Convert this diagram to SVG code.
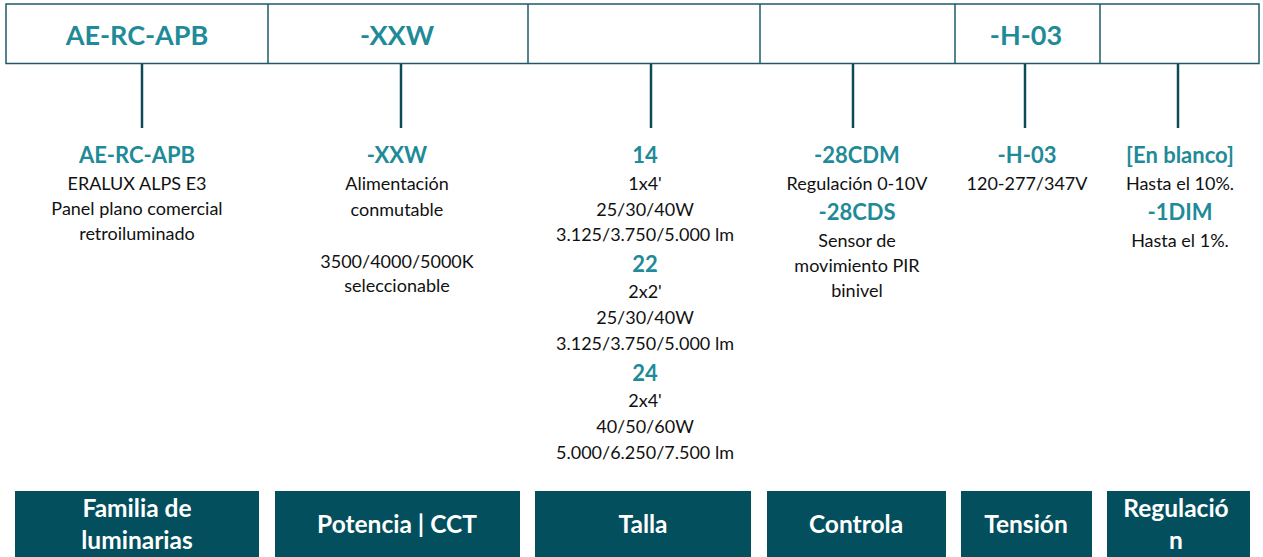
<svg xmlns="http://www.w3.org/2000/svg" width="1263" height="557" viewBox="0 0 1263 557">
<style>
.bar{fill:#fff;stroke:#1d5a68;stroke-width:1.5}
.div{stroke:#1d5a68;stroke-width:1.5}
.code{font-family:Lato,"Liberation Sans",sans-serif;font-weight:bold;fill:#1f8a98;text-anchor:middle}
.top{font-size:27px}
.sub{font-size:22px}
.body{font-family:Lato,"Liberation Sans",sans-serif;font-size:18px;fill:#111;text-anchor:middle}
.box{fill:#034f5e}
.lbl{font-family:Lato,"Liberation Sans",sans-serif;font-weight:bold;font-size:24.5px;fill:#fff;text-anchor:middle}
.con{stroke:#0c4a58;stroke-width:2.5}
</style>
<g id="codebar">
<rect class="bar" x="6" y="4" width="1253" height="59.5"/>
<line class="div" x1="268" y1="4" x2="268" y2="63.5"/>
<line class="div" x1="528" y1="4" x2="528" y2="63.5"/>
<line class="div" x1="760" y1="4" x2="760" y2="63.5"/>
<line class="div" x1="955" y1="4" x2="955" y2="63.5"/>
<line class="div" x1="1100" y1="4" x2="1100" y2="63.5"/>
<text class="code top" x="137" y="45">AE-RC-APB</text>
<text class="code top" x="397" y="45">-XXW</text>
<text class="code top" x="1026" y="45">-H-03</text>
</g>
<g id="connectors">
<line class="con" x1="142" y1="64" x2="142" y2="128"/>
<line class="con" x1="401" y1="64" x2="401" y2="128"/>
<line class="con" x1="651" y1="64" x2="651" y2="128"/>
<line class="con" x1="853" y1="64" x2="853" y2="128"/>
<line class="con" x1="1025" y1="64" x2="1025" y2="128"/>
<line class="con" x1="1178" y1="64" x2="1178" y2="128"/>
</g>
<g id="familia">
<text class="code sub" x="137" y="163">AE-RC-APB</text>
<text class="body" x="137" y="190">ERALUX ALPS E3</text>
<text class="body" x="137" y="215">Panel plano comercial</text>
<text class="body" x="137" y="240">retroiluminado</text>
<rect class="box" x="15" y="491" width="244" height="70"/>
<text class="lbl" x="137" y="517">Familia de</text>
<text class="lbl" x="137" y="549">luminarias</text>
</g>
<g id="potencia">
<text class="code sub" x="397" y="163">-XXW</text>
<text class="body" x="397" y="190">Alimentación</text>
<text class="body" x="397" y="216">conmutable</text>
<text class="body" x="397" y="267.5">3500/4000/5000K</text>
<text class="body" x="397" y="291.5">seleccionable</text>
<rect class="box" x="275" y="491" width="245" height="70"/>
<text class="lbl" x="397" y="533">Potencia | CCT</text>
</g>
<g id="talla">
<text class="code sub" x="645" y="163">14</text>
<text class="body" x="645" y="190">1x4'</text>
<text class="body" x="645" y="215.5">25/30/40W</text>
<text class="body" x="645" y="241">3.125/3.750/5.000 lm</text>
<text class="code sub" x="645" y="272">22</text>
<text class="body" x="645" y="298">2x2'</text>
<text class="body" x="645" y="324">25/30/40W</text>
<text class="body" x="645" y="350">3.125/3.750/5.000 lm</text>
<text class="code sub" x="645" y="381">24</text>
<text class="body" x="645" y="407">2x4'</text>
<text class="body" x="645" y="433">40/50/60W</text>
<text class="body" x="645" y="459">5.000/6.250/7.500 lm</text>
<rect class="box" x="535" y="491" width="216" height="70"/>
<text class="lbl" x="643" y="533">Talla</text>
</g>
<g id="controla">
<text class="code sub" x="857" y="163">-28CDM</text>
<text class="body" x="857" y="190">Regulación 0-10V</text>
<text class="code sub" x="857" y="220">-28CDS</text>
<text class="body" x="857" y="247">Sensor de</text>
<text class="body" x="857" y="272">movimiento PIR</text>
<text class="body" x="857" y="297">binivel</text>
<rect class="box" x="767" y="491" width="179" height="70"/>
<text class="lbl" x="856" y="533">Controla</text>
</g>
<g id="tension">
<text class="code sub" x="1027" y="163">-H-03</text>
<text class="body" x="1027" y="190">120-277/347V</text>
<rect class="box" x="961" y="491" width="131" height="70"/>
<text class="lbl" x="1026" y="533">Tensión</text>
</g>
<g id="regulacion">
<text class="code sub" x="1180" y="163">[En blanco]</text>
<text class="body" x="1180" y="190">Hasta el 10%.</text>
<text class="code sub" x="1180" y="220">-1DIM</text>
<text class="body" x="1180" y="247">Hasta el 1%.</text>
<rect class="box" x="1107" y="491" width="143" height="70"/>
<text class="lbl" x="1176" y="517">Regulació</text>
<text class="lbl" x="1176" y="549">n</text>
</g>
</svg>
